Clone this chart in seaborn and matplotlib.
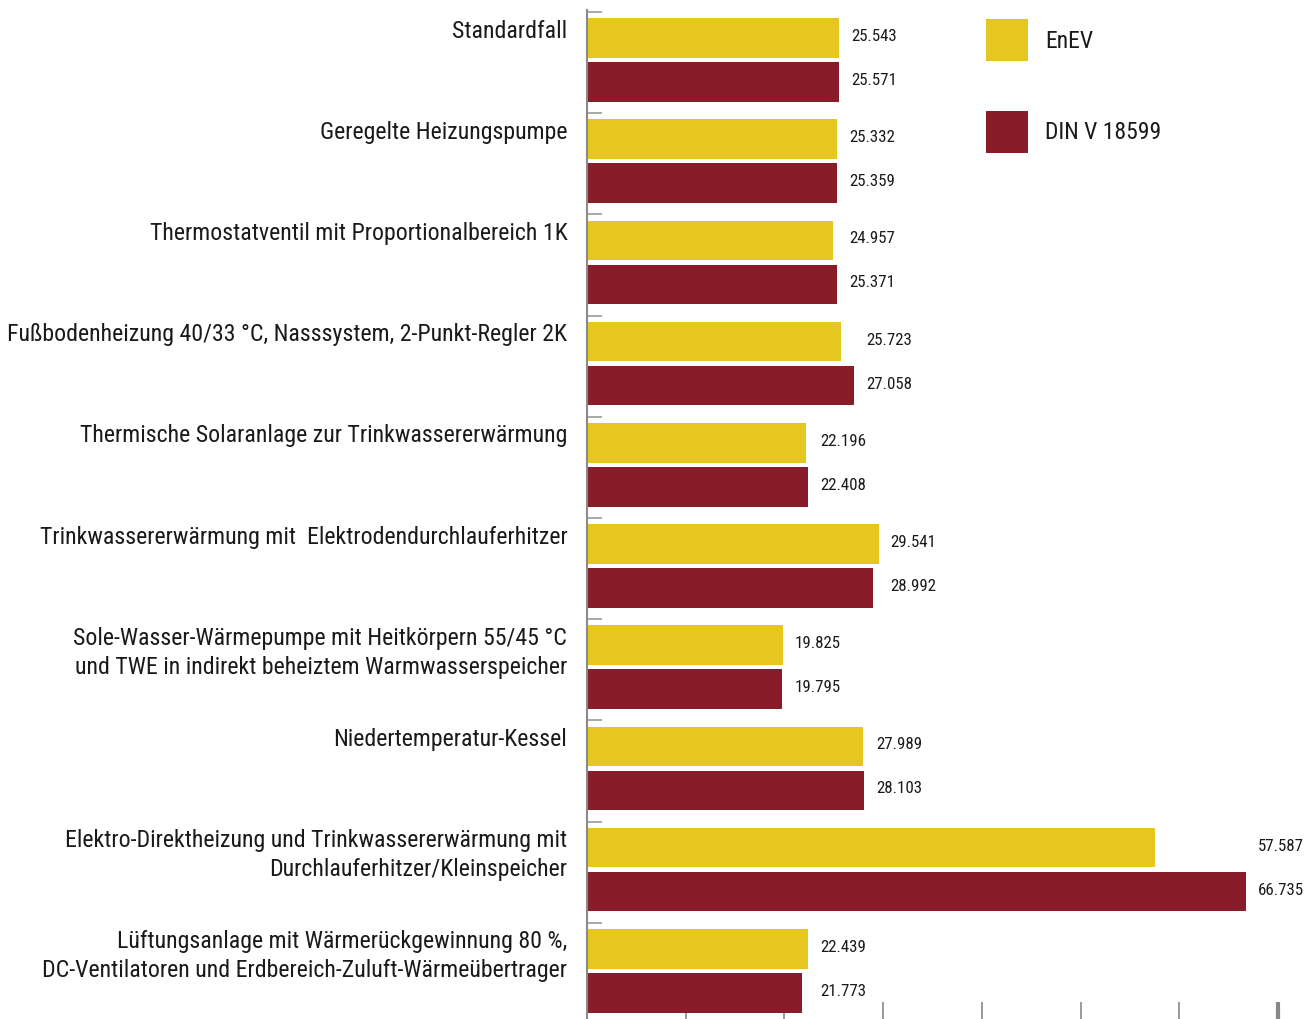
import numpy as np
import pandas as pd
import matplotlib
matplotlib.use("Agg")
import matplotlib.pyplot as plt
from matplotlib.patches import Patch
import seaborn as sns

categories = [
    "Standardfall",
    "Geregelte Heizungspumpe",
    "Thermostatventil mit Proportionalbereich 1K",
    "Fußbodenheizung 40/33 °C, Nasssystem, 2-Punkt-Regler 2K",
    "Thermische Solaranlage zur Trinkwassererwärmung",
    "Trinkwassererwärmung mit  Elektrodendurchlauferhitzer",
    "Sole-Wasser-Wärmepumpe mit Heitkörpern 55/45 °C\nund TWE in indirekt beheiztem Warmwasserspeicher",
    "Niedertemperatur-Kessel",
    "Elektro-Direktheizung und Trinkwassererwärmung mit\nDurchlauferhitzer/Kleinspeicher",
    "Lüftungsanlage mit Wärmerückgewinnung 80 %,\nDC-Ventilatoren und Erdbereich-Zuluft-Wärmeübertrager",
]
series = ["EnEV", "DIN V 18599"]
enev = [25.543, 25.332, 24.957, 25.723, 22.196, 29.541, 19.825, 27.989, 57.587, 22.439]
din = [25.571, 25.359, 25.371, 27.058, 22.408, 28.992, 19.795, 28.103, 66.735, 21.773]
x_ticks = [0, 10, 20, 30, 40, 50, 60, 70]

colors = {"EnEV": "#E6C71F", "DIN V 18599": "#891C29"}

sns.set_style("white")
plt.rcParams["font.family"] = ["Roboto Condensed", "DejaVu Sans"]

df = pd.DataFrame({
    "Kategorie": categories * 2,
    "Wert": enev + din,
    "Serie": [series[0]] * len(categories) + [series[1]] * len(categories),
})

W, H = 1309, 1019
fig = plt.figure(figsize=(W / 100, H / 100), dpi=100)
ax = fig.add_axes([587 / W, 0.0, 1 - 587 / W, 1 - 10 / H])

sns.barplot(data=df, y="Kategorie", x="Wert", hue="Serie", order=categories,
            hue_order=series, palette=colors, orient="h", width=0.87, gap=0.1,
            saturation=1, legend=False, ax=ax, linewidth=0)

ax.set_xlim(0, 73.15)
ax.set_ylim(9.476, -0.494)
ax.set_xlabel("")
ax.set_ylabel("")

for cont in ax.containers:
    for bar in cont:
        bar.set_edgecolor("none")

# value labels
pairs_max = [max(a, b) for a, b in zip(enev, din)]
for cont, vals in zip(ax.containers, [enev, din]):
    for i, bar in enumerate(cont):
        yc = bar.get_y() + bar.get_height() / 2
        ax.text(pairs_max[i] + 1.2, yc - 0.015, f"{vals[i]:.3f}", ha="left", va="center",
                fontsize=12.2, color="#1a1a1a", clip_on=False)

# category labels
for i, lab in enumerate(categories):
    ax.text(-2.0, i - 0.474 + 0.075, lab, ha="right", va="top", fontsize=17.2,
            color="#1a1a1a", linespacing=1.32, clip_on=False)

ax.set_yticks([])
ax.set_yticks(np.arange(len(categories)) - 0.474, minor=True)
ax.tick_params(axis="y", which="minor", direction="in", length=11, width=1.2,
               color="#999999", left=True)
ax.set_xticks(x_ticks)
ax.set_xticklabels([])
ax.tick_params(axis="x", which="major", direction="in", length=12, width=1.2,
               color="#888888", bottom=True)
ax.xaxis.get_major_ticks()[-1].tick1line.set_markeredgewidth(3)
ax.xaxis.get_major_ticks()[-1].tick1line.set_color("#888888")

for s in ["top", "right", "bottom"]:
    ax.spines[s].set_visible(False)
ax.spines["left"].set_color("#8a8a8a")
ax.spines["left"].set_linewidth(1.5)

handles = [Patch(facecolor=colors[s], edgecolor="none", label=s) for s in series]
leg = fig.legend(handles=handles, loc="upper left",
                 bbox_to_anchor=(986 / W, 1 - 19.3 / H), bbox_transform=fig.transFigure,
                 frameon=False, fontsize=17, handlelength=1.78, handleheight=2.36,
                 labelspacing=2.09, handletextpad=0.72, borderpad=0, borderaxespad=0)
for t in leg.get_texts():
    t.set_color("#1a1a1a")

fig.savefig("out.png", dpi=100)
